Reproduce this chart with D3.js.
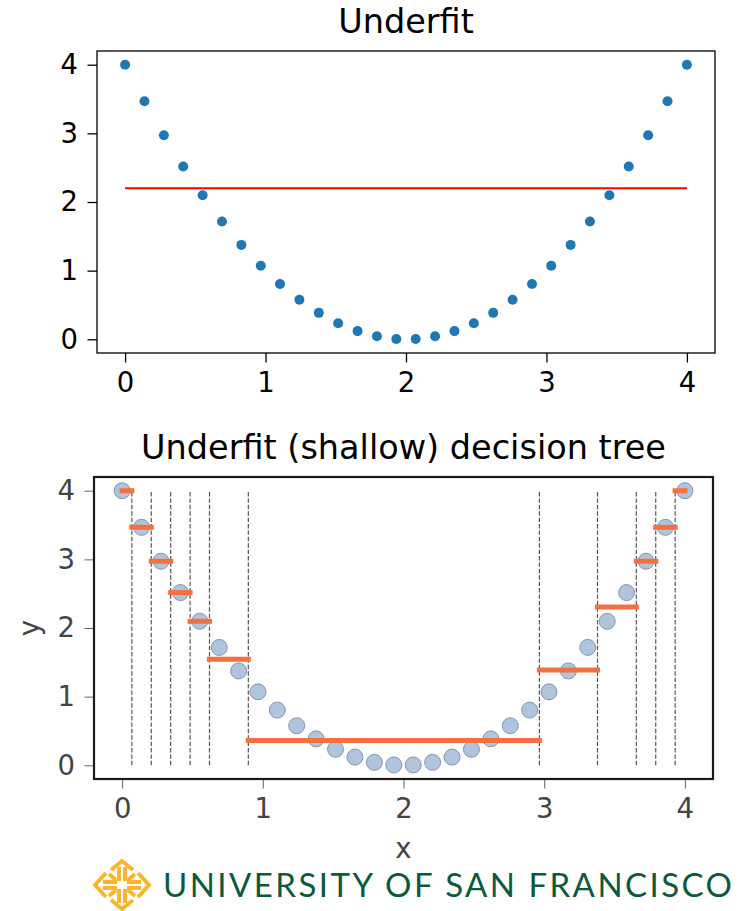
<!DOCTYPE html>
<html>
<head>
<meta charset="utf-8">
<script src="https://cdn.jsdelivr.net/npm/d3@7"></script>
<style>
  html, body { margin: 0; padding: 0; background: #fff; }
  svg { display: block; }
  text { font-family: "DejaVu Sans", sans-serif; }
</style>
</head>
<body>
<svg id="fig" width="744" height="911"></svg>
<script>
// Sample points of y = (x - 2)^2 on [0, 4]
const xs = [0, 0.138, 0.276, 0.414, 0.552, 0.690, 0.828, 0.966, 1.103, 1.241,
            1.379, 1.517, 1.655, 1.793, 1.931, 2.069, 2.207, 2.345, 2.483, 2.621,
            2.759, 2.897, 3.034, 3.172, 3.310, 3.448, 3.586, 3.724, 3.862, 4.0];
const ys = [4.0, 3.467, 2.973, 2.516, 2.098, 1.717, 1.375, 1.070, 0.804, 0.576,
            0.385, 0.233, 0.119, 0.043, 0.005, 0.005, 0.043, 0.119, 0.233, 0.385,
            0.576, 0.804, 1.070, 1.375, 1.717, 2.098, 2.516, 2.973, 3.467, 4.0];

// Constant (underfit) prediction
const flatFit = 2.2;

// Shallow tree: split thresholds and leaf predictions
const splits = [0.069, 0.207, 0.345, 0.483, 0.621, 0.897, 2.966, 3.379, 3.655, 3.793, 3.931];
const leaves = [4.0, 3.467, 2.973, 2.516, 2.098, 1.546, 0.360, 1.387, 2.307, 2.973, 3.467, 4.0];

const tickVals = [0, 1, 2, 3, 4];
const titles = ["Underfit", "Underfit (shallow) decision tree"];

const svg = d3.select("#fig");
svg.append("rect").attr("width", 744).attr("height", 911).attr("fill", "#fff");

function panel(box, opts) {
  const x = d3.scaleLinear().domain([-0.2, 4.2]).range([box.l, box.r]);
  const y = d3.scaleLinear().domain([-0.2, 4.2]).range([box.b, box.t]);
  const g = svg.append("g");

  const xAxis = g.append("g").attr("transform", `translate(0,${box.b})`)
    .call(d3.axisBottom(x).tickValues(tickVals).tickFormat(d3.format("d"))
      .tickSizeInner(9.5).tickSizeOuter(0).tickPadding(9.5));
  const yAxis = g.append("g").attr("transform", `translate(${box.l},0)`)
    .call(d3.axisLeft(y).tickValues(tickVals).tickFormat(d3.format("d"))
      .tickSizeInner(9.5).tickSizeOuter(0).tickPadding(9.5));
  [xAxis, yAxis].forEach(a => {
    a.select(".domain").remove();
    a.selectAll(".tick line").attr("stroke", opts.tickColor).attr("stroke-width", opts.tickWidth);
    a.selectAll(".tick text").attr("fill", opts.labelColor)
      .style("font-size", "27.5px").style("font-family", "DejaVu Sans");
  });

  return { g, x, y };
}

function frame(box, color, width) {
  svg.append("rect")
    .attr("x", box.l).attr("y", box.t)
    .attr("width", box.r - box.l).attr("height", box.b - box.t)
    .attr("fill", "none").attr("stroke", color).attr("stroke-width", width);
}

// ---------- top panel ----------
const topBox = { l: 97, r: 715, t: 51, b: 353 };
const p1 = panel(topBox, { tickColor: "#000", tickWidth: 1.3, labelColor: "#000" });

p1.g.append("line")
  .attr("x1", p1.x(0)).attr("x2", p1.x(4))
  .attr("y1", p1.y(flatFit)).attr("y2", p1.y(flatFit))
  .attr("stroke", "#ff0000").attr("stroke-width", 2);

p1.g.selectAll("circle.pt").data(xs).join("circle")
  .attr("class", "pt")
  .attr("cx", d => p1.x(d))
  .attr("cy", (d, i) => p1.y(ys[i]))
  .attr("r", 5)
  .attr("fill", "#1f77b4");

frame(topBox, "#000", 1.3);

svg.append("text")
  .attr("x", (topBox.l + topBox.r) / 2).attr("y", 33)
  .attr("text-anchor", "middle")
  .style("font-size", "33.5px").attr("fill", "#000")
  .text(titles[0]);

// ---------- bottom panel ----------
const botBox = { l: 94, r: 713, t: 477, b: 779 };
const p2 = panel(botBox, { tickColor: "#666", tickWidth: 1, labelColor: "#444" });

// split thresholds
p2.g.selectAll("line.split").data(splits).join("line")
  .attr("class", "split")
  .attr("x1", d => p2.x(d)).attr("x2", d => p2.x(d))
  .attr("y1", p2.y(0)).attr("y2", p2.y(4))
  .attr("stroke", "#555").attr("stroke-width", 1.2)
  .attr("stroke-dasharray", "4.4,2");

p2.g.selectAll("circle.pt").data(xs).join("circle")
  .attr("class", "pt")
  .attr("cx", d => p2.x(d))
  .attr("cy", (d, i) => p2.y(ys[i]))
  .attr("r", 8)
  .attr("fill", "#b0c4de")
  .attr("stroke", "#8595ad").attr("stroke-width", 1);

// leaf predictions as horizontal steps
const edges = [0, ...splits, 4];
p2.g.selectAll("line.leaf").data(leaves).join("line")
  .attr("class", "leaf")
  .attr("x1", (d, i) => p2.x(edges[i])).attr("x2", (d, i) => p2.x(edges[i + 1]))
  .attr("y1", d => p2.y(d)).attr("y2", d => p2.y(d))
  .attr("stroke", "#f4703f").attr("stroke-width", 5)
  .attr("stroke-linecap", "square");

frame(botBox, "#1a1a1a", 2.2);

svg.append("text")
  .attr("x", (botBox.l + botBox.r) / 2).attr("y", 459)
  .attr("text-anchor", "middle")
  .style("font-size", "33.5px").attr("fill", "#000")
  .text(titles[1]);

svg.append("text")
  .attr("x", p2.x(2)).attr("y", 858)
  .attr("text-anchor", "middle")
  .style("font-size", "27.5px").attr("fill", "#444")
  .text("x");

svg.append("text")
  .attr("transform", `translate(39,${p2.y(2)}) rotate(-90)`)
  .attr("text-anchor", "middle")
  .style("font-size", "27.5px").attr("fill", "#444")
  .text("y");

// ---------- university wordmark ----------
const logo = svg.append("g").attr("transform", "translate(122,885)")
  .attr("fill", "none").attr("stroke", "#fbb52b").attr("stroke-width", 4)
  .attr("stroke-linecap", "butt").attr("stroke-linejoin", "miter");
// outer diamond corners
logo.append("path").attr("d", "M-16,-12 L-27,0 L-16,12");
logo.append("path").attr("d", "M16,-12 L27,0 L16,12");
logo.append("path").attr("d", "M-11,-15 L0,-24 L11,-15");
logo.append("path").attr("d", "M-11,15 L0,24 L11,15");
// inner cross arms
logo.append("path").attr("d", "M-3,-18 V-4 M3,-18 V-4 M-3,4 V18 M3,4 V18");
logo.append("path").attr("d", "M-19,-3 H-5 M-19,3 H-5 M5,-3 H19 M5,3 H19");
// diagonal arrow strokes
logo.append("path").attr("d", "M-13,-11 L-6,-5 M13,-11 L6,-5 M-13,11 L-6,5 M13,11 L6,5");

svg.append("text")
  .attr("x", 163).attr("y", 897)
  .attr("textLength", 569).attr("lengthAdjust", "spacing")
  .style("font-family", "Lato, 'Open Sans', sans-serif")
  .style("font-size", "33px").attr("fill", "#0b5a3c")
  .text("UNIVERSITY OF SAN FRANCISCO");
</script>
</body>
</html>
